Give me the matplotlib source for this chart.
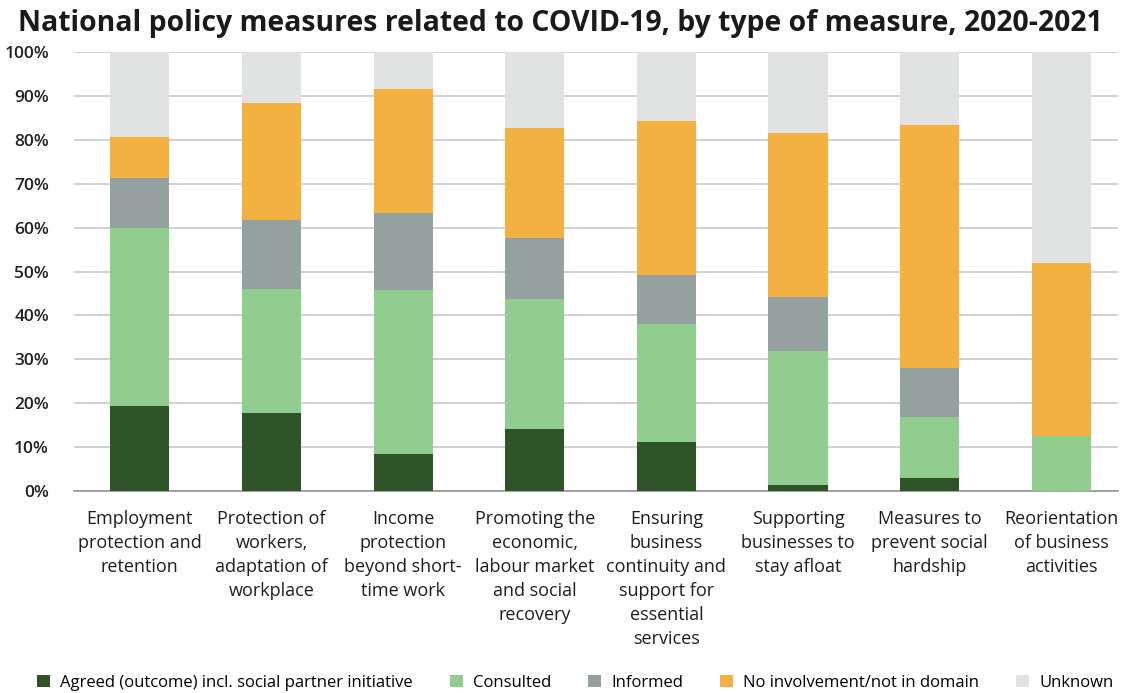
import matplotlib.pyplot as plt
import numpy as np

categories = [
    "Employment\nprotection and\nretention",
    "Protection of\nworkers,\nadaptation of\nworkplace",
    "Income\nprotection\nbeyond short-\ntime work",
    "Promoting the\neconomic,\nlabour market\nand social\nrecovery",
    "Ensuring\nbusiness\ncontinuity and\nsupport for\nessential\nservices",
    "Supporting\nbusinesses to\nstay afloat",
    "Measures to\nprevent social\nhardship",
    "Reorientation\nof business\nactivities",
]

# shares in percent, per category
agreed = [19.3, 17.8, 8.5, 14.2, 11.1, 1.4, 3.0, 0.0]
consulted = [40.6, 28.2, 37.3, 29.5, 27.0, 30.6, 13.8, 12.5]
informed = [11.5, 15.8, 17.5, 14.0, 11.0, 12.1, 11.2, 0.0]
no_involvement = [9.3, 26.5, 28.2, 24.9, 35.2, 37.4, 55.4, 39.4]
unknown = [19.3, 11.7, 8.5, 17.4, 15.7, 18.5, 16.6, 48.1]

series = [
    ("Agreed (outcome) incl. social partner initiative", agreed, "#2e5428"),
    ("Consulted", consulted, "#90cd8e"),
    ("Informed", informed, "#95a19f"),
    ("No involvement/not in domain", no_involvement, "#f2b141"),
    ("Unknown", unknown, "#e0e3e1"),
]

plt.rcParams['font.family'] = ['Open Sans', 'DejaVu Sans']

fig = plt.figure(figsize=(11.28, 6.93), dpi=100)
ax = fig.add_axes([74 / 1128, 1 - 491 / 693, (1118 - 74) / 1128, (491 - 52) / 693])

x = np.arange(len(categories))
bottom = np.zeros(len(categories))
handles = []
for name, vals, color in series:
    b = ax.bar(x, vals, 0.45, bottom=bottom, color=color, label=name, zorder=3)
    handles.append(b)
    bottom += np.array(vals)

ax.set_ylim(0, 100)
ax.set_xlim(-0.5, 7.43)
ax.set_yticks(range(0, 101, 10))
ax.set_yticklabels([f"{v}%" for v in range(0, 101, 10)], fontsize=12.5,
                   color="#222222", fontweight="semibold")
ax.yaxis.grid(True, color="#c9c9c9", linewidth=1.2, zorder=0)
ax.tick_params(axis="both", length=0)
ax.tick_params(axis="y", pad=18)
ax.set_xticks(x)
ax.set_xticklabels(categories, fontsize=13, color="#1e1e1e",
                   linespacing=1.42, va="top", fontweight="medium")
ax.tick_params(axis="x", pad=14)
for s in ["top", "right", "left"]:
    ax.spines[s].set_visible(False)
ax.spines["bottom"].set_color("#9a9a9a")
ax.spines["bottom"].set_linewidth(1.3)

fig.text(0.4965, 0.966, "National policy measures related to COVID-19, by type of measure, 2020-2021",
         ha="center", va="center", fontsize=20.4, fontweight="bold", color="#1a1a1a")

fig.legend(handles=handles, loc="center", bbox_to_anchor=(0.51, 0.015), ncol=5,
           frameon=False, handlelength=0.8, handleheight=0.8,
           columnspacing=2.2, handletextpad=0.6,
           prop={"size": 12, "weight": "medium"})

fig.savefig("out.png", dpi=100)
